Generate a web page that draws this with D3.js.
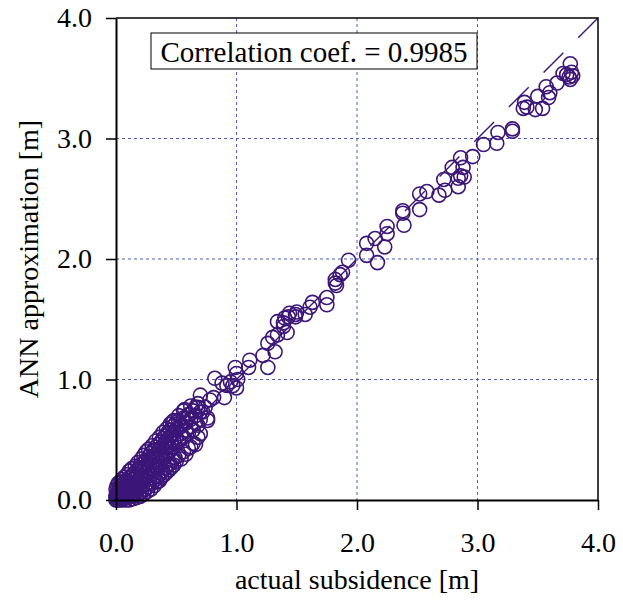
<!DOCTYPE html>
<html>
<head>
<meta charset="utf-8">
<script src="https://cdn.jsdelivr.net/npm/d3@7"></script>
<style>
  body { margin: 0; background: #fff; }
  text { font-family: "Liberation Serif", "Times New Roman", Times, serif; fill: #000; }
</style>
</head>
<body>
<div id="chart"></div>
<script>
// Data (metres).
// actual[i] goes with predicted[i].
let actual = [
  // dense cloud near the origin
  0.00, 0.00, 0.00, 0.00, 0.01, 0.01, 0.01, 0.02, 0.02, 0.02, 0.02, 0.03, 0.03, 0.03,
  0.04, 0.04, 0.04, 0.05, 0.05, 0.05, 0.05, 0.06, 0.06, 0.06, 0.07, 0.07, 0.07,
  0.08, 0.08, 0.08, 0.08, 0.09, 0.09, 0.09, 0.10, 0.10, 0.10, 0.11, 0.11, 0.11, 0.11,
  0.12, 0.12, 0.12, 0.13, 0.13, 0.13, 0.13, 0.14, 0.14, 0.14, 0.15, 0.15, 0.15,
  0.16, 0.16, 0.16, 0.16, 0.17, 0.17, 0.17, 0.18, 0.18, 0.18, 0.18, 0.19, 0.19, 0.19,
  0.20, 0.20, 0.20, 0.20, 0.21, 0.21, 0.21, 0.21, 0.22, 0.22, 0.22,
  0.23, 0.23, 0.23, 0.23, 0.24, 0.24, 0.24, 0.25, 0.25, 0.25, 0.25, 0.26, 0.26, 0.26,
  0.27, 0.27, 0.27, 0.27, 0.28, 0.28, 0.28, 0.29, 0.29, 0.29, 0.30, 0.30, 0.30, 0.30,
  0.31, 0.31, 0.31, 0.32, 0.32, 0.32, 0.33, 0.33, 0.33, 0.33, 0.34, 0.34, 0.34,
  0.35, 0.35, 0.35, 0.36, 0.36, 0.36, 0.36, 0.37, 0.37, 0.37, 0.38, 0.38, 0.38,
  0.39, 0.39, 0.39, 0.39, 0.40, 0.40, 0.40, 0.41, 0.41, 0.41, 0.42, 0.42, 0.42, 0.42,
  0.43, 0.43, 0.43, 0.44, 0.44, 0.44, 0.45, 0.45, 0.45, 0.45, 0.46, 0.46, 0.46,
  0.47, 0.47, 0.47, 0.48, 0.48, 0.48, 0.48, 0.49, 0.49, 0.49, 0.50, 0.50, 0.50,
  0.52, 0.52, 0.52, 0.52, 0.54, 0.54, 0.54, 0.56, 0.56, 0.56, 0.56, 0.58, 0.58, 0.58,
  0.60, 0.60, 0.60, 0.62, 0.62, 0.62, 0.62, 0.64, 0.64, 0.64, 0.66, 0.66, 0.66,
  0.68, 0.68, 0.68, 0.70, 0.70, 0.70,
  // 0.5 - 1.5
  0.76, 0.47, 0.55, 0.57, 0.59, 0.61, 0.72, 0.76, 0.66, 0.74, 0.68, 0.70, 0.78, 0.81, 0.90,
  0.88, 0.82, 1.00, 0.92, 0.97, 0.95, 1.01, 1.00, 0.99, 1.10, 1.11, 1.26, 1.22, 1.32, 1.26,
  1.30, 1.34, 1.42, 1.34, 1.39, 1.43, 1.49,
  // 1.4 - 2.4
  1.39, 1.40, 1.49, 1.44, 1.50, 1.57, 1.61, 1.63, 1.75, 1.75, 1.82, 1.83, 1.82, 1.86, 1.88,
  1.93, 2.17, 2.08, 2.08, 2.15, 2.23, 2.25, 2.25, 2.39, 2.38,
  // 2.4 - 3.8
  2.38, 2.52, 2.52, 2.58, 2.68, 2.73, 2.72, 2.84, 2.84, 2.89, 2.86, 2.88, 2.79, 2.86, 2.96,
  3.05, 3.16, 3.17, 3.29, 3.29, 3.54, 3.48, 3.38, 3.41, 3.39, 3.50, 3.59, 3.60, 3.57, 3.66,
  3.77, 3.74, 3.79, 3.76, 3.78, 3.71, 3.77
];
let predicted = [
  0.00, 0.04, 0.09, 0.02, 0.00, 0.06, 0.12, 0.01, 0.03, 0.08, 0.14, 0.00, 0.05, 0.11,
  0.02, 0.07, 0.15, 0.00, 0.04, 0.10, 0.17, 0.01, 0.06, 0.13, 0.03, 0.09, 0.19,
  0.00, 0.05, 0.12, 0.16, 0.02, 0.08, 0.21, 0.04, 0.11, 0.15, 0.00, 0.07, 0.18, 0.24,
  0.03, 0.10, 0.14, 0.05, 0.12, 0.20, 0.26, 0.01, 0.08, 0.17, 0.04, 0.13, 0.22,
  0.06, 0.10, 0.19, 0.28, 0.02, 0.15, 0.24, 0.08, 0.12, 0.21, 0.31, 0.05, 0.17, 0.26,
  0.03, 0.10, 0.19, 0.29, 0.07, 0.14, 0.23, 0.34, 0.12, 0.20, 0.27,
  0.05, 0.16, 0.31, 0.37, 0.09, 0.22, 0.28, 0.13, 0.19, 0.33, 0.40, 0.07, 0.25, 0.30,
  0.11, 0.18, 0.36, 0.42, 0.15, 0.27, 0.33, 0.09, 0.21, 0.39, 0.14, 0.29, 0.35, 0.45,
  0.18, 0.24, 0.41, 0.12, 0.31, 0.37, 0.17, 0.27, 0.44, 0.49, 0.15, 0.33, 0.39,
  0.20, 0.29, 0.46, 0.16, 0.36, 0.42, 0.52, 0.23, 0.31, 0.48, 0.19, 0.38, 0.44,
  0.24, 0.34, 0.51, 0.56, 0.21, 0.41, 0.46, 0.27, 0.36, 0.53, 0.23, 0.43, 0.49, 0.59,
  0.29, 0.39, 0.56, 0.25, 0.45, 0.51, 0.30, 0.42, 0.58, 0.63, 0.27, 0.48, 0.54,
  0.33, 0.44, 0.61, 0.29, 0.50, 0.56, 0.66, 0.35, 0.47, 0.63, 0.32, 0.52, 0.59,
  0.37, 0.49, 0.66, 0.70, 0.34, 0.55, 0.61, 0.40, 0.52, 0.68, 0.74, 0.38, 0.58, 0.64,
  0.43, 0.55, 0.71, 0.44, 0.61, 0.67, 0.78, 0.47, 0.58, 0.74, 0.46, 0.64, 0.70,
  0.52, 0.62, 0.77, 0.55, 0.67, 0.73,
  0.66, 0.65, 0.62, 0.75, 0.68, 0.71, 0.73, 0.68, 0.77, 0.77, 0.80, 0.87, 0.83, 0.85, 0.85,
  0.97, 1.01, 0.93, 0.95, 0.95, 0.98, 1.00, 1.05, 1.10, 1.10, 1.16, 1.10, 1.20, 1.23, 1.30,
  1.35, 1.37, 1.39, 1.48, 1.47, 1.52, 1.54,
  1.44, 1.51, 1.52, 1.55, 1.56, 1.54, 1.60, 1.64, 1.62, 1.68, 1.80, 1.78, 1.83, 1.87, 1.89,
  1.99, 1.97, 2.03, 2.13, 2.17, 2.10, 2.21, 2.27, 2.28, 2.38,
  2.40, 2.41, 2.54, 2.56, 2.53, 2.57, 2.66, 2.60, 2.67, 2.68, 2.69, 2.76, 2.76, 2.84, 2.85,
  2.95, 2.96, 3.05, 3.06, 3.08, 3.25, 3.24, 3.25, 3.26, 3.30, 3.35, 3.34, 3.38, 3.43, 3.46,
  3.49, 3.53, 3.52, 3.51, 3.55, 3.54, 3.62
];
let points = actual.map((a, i) => ({x: a, y: predicted[i]}));

let tickValues = [0, 1, 2, 3, 4];
let xTitle = "actual subsidence [m]";
let yTitle = "ANN approximation [m]";
let corrLabel = "Correlation coef. = 0.9985";

////////////////////////////////////////////////////////////////////////
// Layout

let width = 623;
let height = 610;
let plotLeft = 116, plotRight = 598, plotTop = 18, plotBottom = 500;

let xScale = d3.scaleLinear().domain([0, 4]).range([plotLeft, plotRight]);
let yScale = d3.scaleLinear().domain([0, 4]).range([plotBottom, plotTop]);

let purple = "#3c1678";
let gridBlue = "#4f5fbf";

let svg = d3.select("#chart")
  .append("svg")
  .attr("width", width).attr("height", height);

// grid lines
let grid = svg.append("g");
grid.selectAll("line.gx")
  .data(tickValues.slice(1, 4))
  .enter().append("line")
  .attr("class", "gx")
  .attr("x1", d => xScale(d)).attr("x2", d => xScale(d))
  .attr("y1", plotTop).attr("y2", plotBottom)
  .attr("stroke", gridBlue).attr("stroke-width", 1)
  .attr("stroke-dasharray", "3,3");
grid.selectAll("line.gy")
  .data(tickValues.slice(1, 4))
  .enter().append("line")
  .attr("class", "gy")
  .attr("y1", d => yScale(d)).attr("y2", d => yScale(d))
  .attr("x1", plotLeft).attr("x2", plotRight)
  .attr("stroke", gridBlue).attr("stroke-width", 1)
  .attr("stroke-dasharray", "3,3");

// 1:1 line, drawn from the top corner so the dashes line up there
svg.append("line")
  .attr("x1", xScale(4)).attr("y1", yScale(4))
  .attr("x2", xScale(0)).attr("y2", yScale(0))
  .attr("stroke", purple).attr("stroke-width", 1.4)
  .attr("stroke-dasharray", "28,21");

// points
svg.append("g")
  .selectAll("circle")
  .data(points)
  .enter()
  .append("circle")
  .attr("cx", d => xScale(d.x))
  .attr("cy", d => yScale(d.y))
  .attr("r", 7)
  .attr("fill", "none")
  .attr("stroke", purple)
  .attr("stroke-width", 1.6);

// frame (top and right)
svg.append("path")
  .attr("d", `M${plotLeft},${plotTop}H${plotRight}V${plotBottom}`)
  .attr("fill", "none").attr("stroke", "#000").attr("stroke-width", 1.5);

// axes
let xAxis = d3.axisBottom(xScale).tickValues(tickValues)
  .tickFormat(d3.format(".1f")).tickSizeInner(10).tickSizeOuter(0).tickPadding(22);
let yAxis = d3.axisLeft(yScale).tickValues(tickValues)
  .tickFormat(d3.format(".1f")).tickSizeInner(10).tickSizeOuter(0).tickPadding(14);

let gx = svg.append("g")
  .attr("transform", `translate(0, ${plotBottom})`)
  .call(xAxis);
let gy = svg.append("g")
  .attr("transform", `translate(${plotLeft}, 0)`)
  .call(yAxis);

[gx, gy].forEach(g => {
  g.attr("font-family", null);
  g.select(".domain").attr("stroke", "#000").attr("stroke-width", 2);
  g.selectAll(".tick line").attr("stroke", "#000").attr("stroke-width", 1.5);
  g.selectAll(".tick text")
    .attr("font-size", 28).attr("fill", "#000");
});

// axis titles
svg.append("text")
  .attr("x", (plotLeft + plotRight) / 2)
  .attr("y", 589)
  .attr("text-anchor", "middle")
  .attr("font-size", 28)
  .text(xTitle);

svg.append("text")
  .attr("transform", "rotate(-90)")
  .attr("x", -(plotTop + plotBottom) / 2)
  .attr("y", 38)
  .attr("text-anchor", "middle")
  .attr("font-size", 28)
  .text(yTitle);

// correlation box
svg.append("rect")
  .attr("x", 151).attr("y", 33)
  .attr("width", 326).attr("height", 36)
  .attr("fill", "#fff").attr("stroke", "#000").attr("stroke-width", 1);
svg.append("text")
  .attr("x", 314).attr("y", 62)
  .attr("text-anchor", "middle")
  .attr("font-size", 29)
  .text(corrLabel);
</script>
</body>
</html>
